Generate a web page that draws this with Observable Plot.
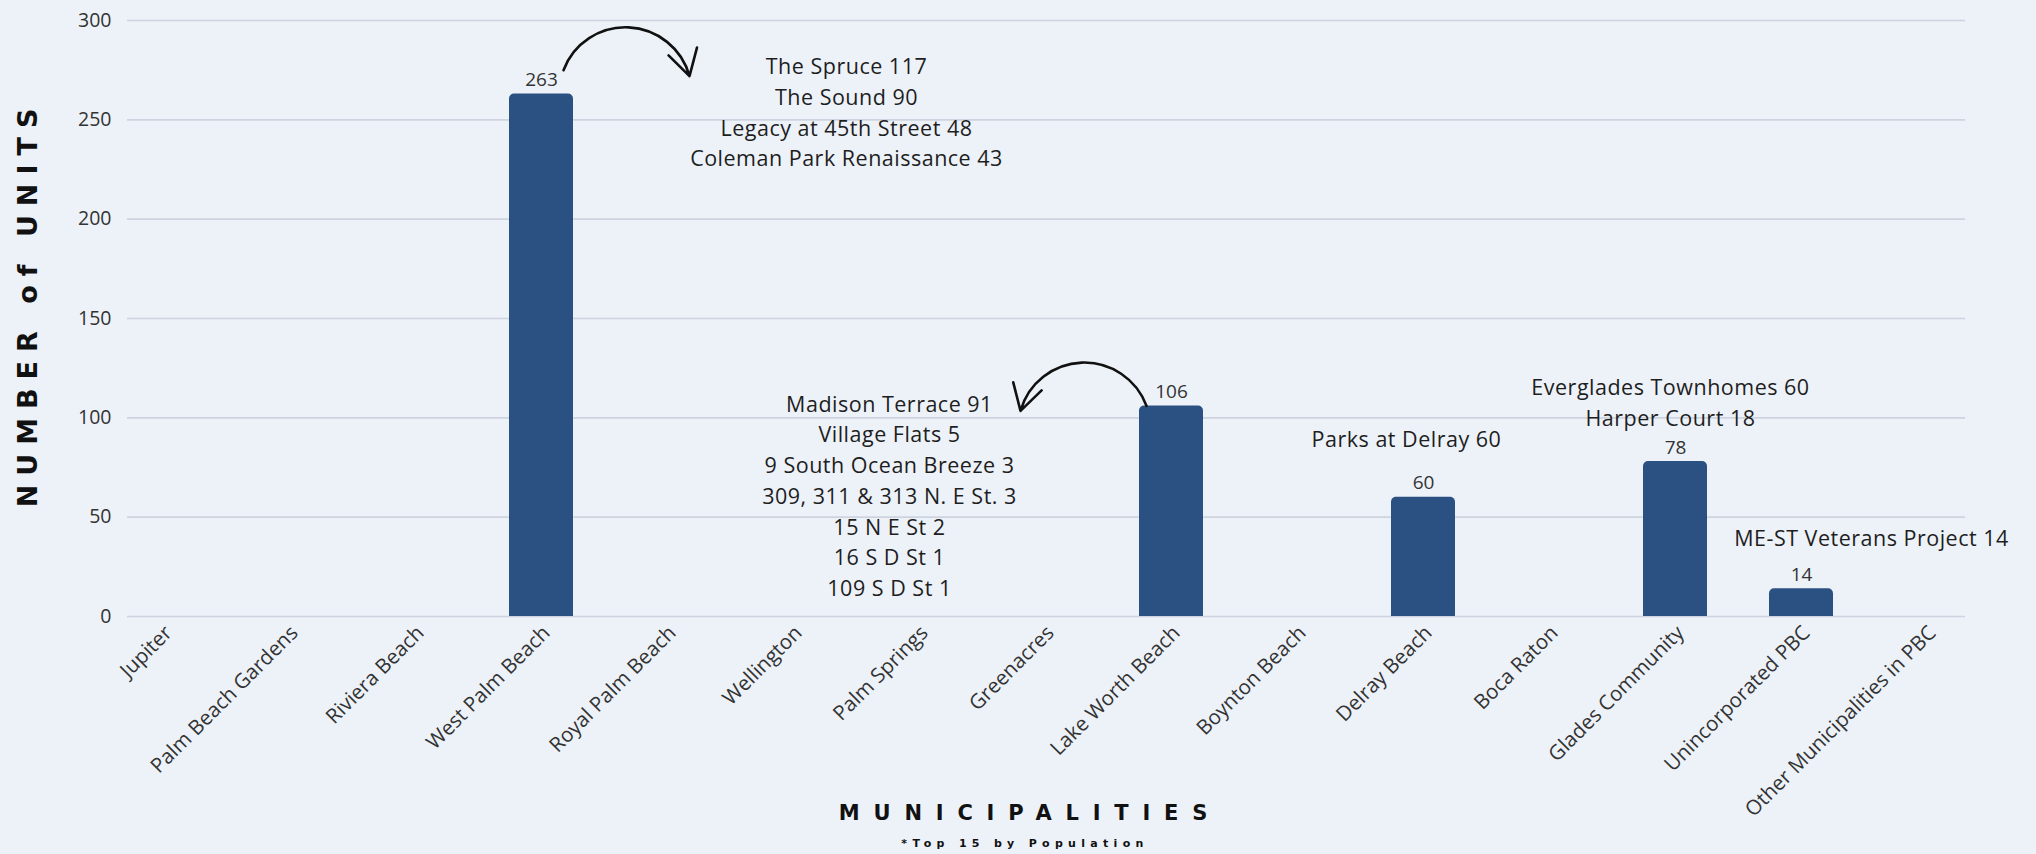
<!DOCTYPE html>
<html>
<head>
<meta charset="utf-8">
<script src="https://cdn.jsdelivr.net/npm/d3@7"></script>
<script src="https://cdn.jsdelivr.net/npm/@observablehq/plot@0.6"></script>
<style>
html, body { margin: 0; padding: 0; background: #edf2f9; }
#wrap { position: relative; width: 2036px; height: 854px; overflow: hidden; background: #edf2f9; }
#xlabel { position: absolute; left: 0; top: 799px; width: 2036px; box-sizing: border-box; padding-left: 24px;
  text-align: center; font-family: "DejaVu Sans"; font-weight: bold; font-size: 21px; letter-spacing: 13.8px;
  line-height: 28px; color: #111; }
#caption { position: absolute; left: 0; top: 837px; width: 2036px; box-sizing: border-box; padding-left: 14px;
  text-align: center; font-family: "DejaVu Sans"; font-weight: bold; font-size: 11px; letter-spacing: 5.3px;
  line-height: 14px; color: #111; }
.ylab text { letter-spacing: 9px; }
.note text { letter-spacing: 0.5px; }
</style>
</head>
<body>
<div id="wrap">
  <div id="chart"></div>
  <div id="xlabel">MUNICIPALITIES</div>
  <div id="caption">*Top 15 by Population</div>
</div>
<script>
// ---- data ----
const municipalities = [
  "Jupiter", "Palm Beach Gardens", "Riviera Beach", "West Palm Beach", "Royal Palm Beach",
  "Wellington", "Palm Springs", "Greenacres", "Lake Worth Beach", "Boynton Beach",
  "Delray Beach", "Boca Raton", "Glades Community", "Unincorporated PBC", "Other Municipalities in PBC"
];
const units = [0, 0, 0, 263, 0, 0, 0, 0, 106, 0, 60, 0, 78, 14, 0];
const yTicks = [0, 50, 100, 150, 200, 250, 300];
const yLabel = "NUMBER of UNITS";

// project notes (category they sit near, level in units, lines)
const noteAnchors = ["Wellington", "Palm Springs", "Delray Beach", "Glades Community", "Unincorporated PBC"];
const noteLevels = [254.8, 61.6, 90.3, 108.8, 40.5];
const noteLines = [
  ["The Spruce 117", "The Sound 90", "Legacy at 45th Street 48", "Coleman Park Renaissance 43"],
  ["Madison Terrace 91", "Village Flats 5", "9 South Ocean Breeze 3", "309, 311 & 313 N. E St. 3", "15 N E St 2", "16 S D St 1", "109 S D St 1"],
  ["Parks at Delray 60"],
  ["Everglades Townhomes 60", "Harper Court 18"],
  ["ME-ST Veterans Project 14"]
];

// arrows linking bars to notes
const arrowFrom = ["West Palm Beach", "Lake Worth Beach"];
const arrowTo = ["Royal Palm Beach", "Greenacres"];
const arrowFromLevel = [275, 106];
const arrowToLevel = [272, 103.5];

// ---- tables ----
const rows = municipalities.map((name, i) => ({name, units: units[i]}));
const notes = noteAnchors.map((a, i) => ({anchor: a, level: noteLevels[i], text: noteLines[i].join("\n")}));
const arrows = arrowFrom.map((f, i) => ({from: f, to: arrowTo[i], y1: arrowFromLevel[i], y2: arrowToLevel[i]}));

const noteDx = [53, -30, -17, -5, 70];
const noteMarks = notes.map((n, i) => Plot.text([n], {
  x: "anchor", y: "level", text: "text", dx: noteDx[i], lineAnchor: "middle", lineHeight: 1.43,
  fontSize: 21.5, fill: "#1e1e1e", fontFamily: "Open Sans", className: "note"
}));

const chart = Plot.plot({
  width: 2036,
  height: 854,
  marginTop: 20,
  marginBottom: 238,
  marginLeft: 127,
  marginRight: 71,
  style: {background: "transparent", fontFamily: "Open Sans", fontSize: "19px", color: "#333", overflow: "visible"},
  x: {domain: municipalities, range: [95, 1995], paddingInner: 0.49, paddingOuter: 0.245, align: 0.5, label: null},
  y: {domain: [0, 300], ticks: yTicks, label: null},
  marks: [
    Plot.gridY(yTicks, {stroke: "#cdd4df", strokeOpacity: 1, strokeWidth: 1.6}),
    Plot.axisY({ticks: yTicks, tickSize: 0, tickPadding: 16, fontSize: 19.5, label: null}),
    Plot.axisX({tickRotate: -45, tickSize: 0, tickPadding: 13, dx: 5, fontSize: 20.5, label: null}),
    Plot.text([yLabel], {frameAnchor: "left", rotate: -90, dx: -110, dy: -15, lineAnchor: "top", textAnchor: "middle",
      fontSize: 27, fontWeight: "bold", fontFamily: "DejaVu Sans", fill: "#111", className: "ylab"}),
    Plot.barY(rows, {x: "name", y: "units", fill: "#2b5082", ry1: 5}),
    Plot.text(rows, {filter: d => d.units > 0, x: "name", y: "units", text: d => String(d.units),
      dy: -14, fontSize: 19, fill: "#333"}),
    ...noteMarks,
    Plot.arrow([arrows[0]], {x1: "from", x2: "to", y1: "y1", y2: "y2", dx: 22, bend: 72,
      stroke: "#111", strokeWidth: 2.6, headLength: 17}),
    Plot.arrow([arrows[1]], {x1: "from", x2: "to", y1: "y1", y2: "y2", dx: -25, bend: -72,
      stroke: "#111", strokeWidth: 2.6, headLength: 17})
  ]
});
document.getElementById("chart").appendChild(chart);
</script>
</body>
</html>
